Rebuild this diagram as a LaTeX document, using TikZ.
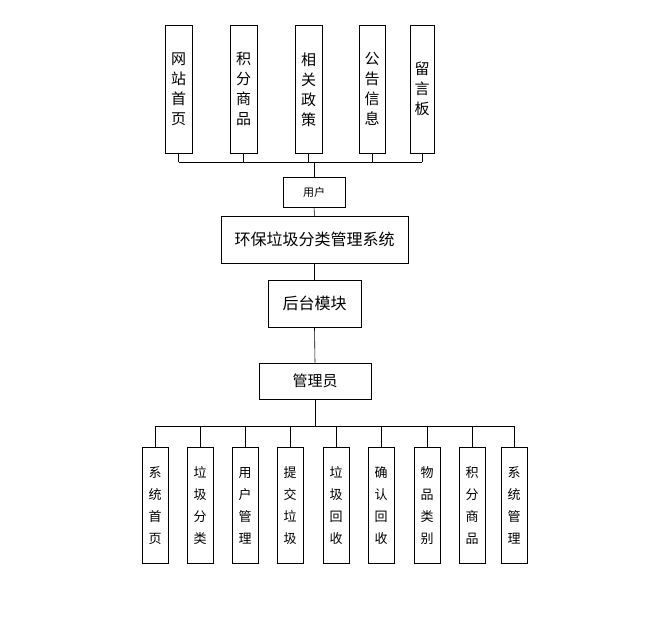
\documentclass[tikz,border=0pt]{standalone}
\usepackage{fontspec}
\setmainfont{Noto Sans CJK SC}
\begin{document}
\begin{tikzpicture}[x=1pt,y=-1pt,
  bx/.style={draw,line width=0.6pt,inner sep=0pt,align=center},
  ln/.style={line width=0.6pt}]
\useasboundingbox (0,0) rectangle (667,625);
\fill[white] (0,0) rectangle (667,625);
% top boxes
\foreach \n/\x/\w/\t in {a/178.5/27/网\\站\\首\\页, b/243.5/27/积\\分\\商\\品, c/308.5/27/相\\关\\政\\策, d/372/26/公\\告\\信\\息}{
  \node[bx,minimum width=\w,minimum height=128,font=\fontsize{15}{20}\selectfont,anchor=north] (\n) at (\x,25) {\t};
}
\node[bx,minimum width=24,minimum height=128,font=\fontsize{15}{20}\selectfont,anchor=north] (e) at (422,25) {留\\言\\板};
\node[bx,minimum width=62,minimum height=30,font=\fontsize{11}{13}\selectfont] (u) at (314,192) {用户};
\node[bx,minimum width=187,minimum height=47,font=\fontsize{16}{19}\selectfont] (m) at (314.5,239.5) {环保垃圾分类管理系统};
\node[bx,minimum width=93,minimum height=47,font=\fontsize{16}{19}\selectfont] (h) at (314.5,303.5) {后台模块};
\node[bx,minimum width=112,minimum height=36,font=\fontsize{15}{18}\selectfont] (g) at (315,381) {管理员};
\coordinate (tj) at (314,162);
\coordinate (bj) at (315,426);
\foreach \n in {a,b,c,d,e}{\draw[ln] (\n.south) -- (\n.south |- tj);}
\draw[ln] (a.south |- tj) -- (e.south |- tj);
\draw[ln] (tj) -- (u.north);
\draw[ln] (u.south) -- (m.north);
\draw[ln] (m.south) -- (h.north);
\draw[ln] (h.south) -- (g.north);
\draw[ln] (g.south) -- (bj);
\foreach \n/\x/\t in {p1/155/系\\统\\首\\页, p2/200/垃\\圾\\分\\类, p3/245/用\\户\\管\\理, p4/290/提\\交\\垃\\圾, p5/336/垃\\圾\\回\\收, p6/381/确\\认\\回\\收, p7/427/物\\品\\类\\别, p8/472/积\\分\\商\\品, p9/514/系\\统\\管\\理}{
  \node[bx,minimum width=26,minimum height=116,font=\fontsize{13}{22}\selectfont,anchor=north] (\n) at (\x,447) {\t};
  \draw[ln] (\n.north) -- (\n.north |- bj);
}
\draw[ln] (p1.north |- bj) -- (p9.north |- bj);
\end{tikzpicture}
\end{document}
